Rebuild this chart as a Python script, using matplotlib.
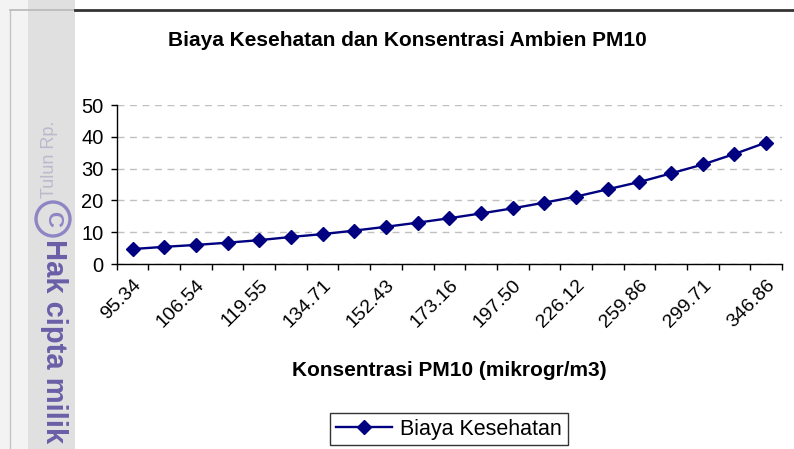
import numpy as np
import matplotlib
matplotlib.use("Agg")
import matplotlib.pyplot as plt
from matplotlib.patches import Rectangle, Circle
from matplotlib.lines import Line2D

# data
tick_labels = ["95.34", "106.54", "119.55", "134.71", "152.43", "173.16",
               "197.50", "226.12", "259.86", "299.71", "346.86"]
biaya = [4.7, 5.4, 6.0, 6.7, 7.5, 8.5, 9.4, 10.5, 11.7, 13.0, 14.4,
         15.9, 17.5, 19.3, 21.2, 23.5, 25.8, 28.5, 31.3, 34.6, 38.2]

plt.rcParams['font.family'] = ['Liberation Sans', 'DejaVu Sans']

W, H = 794, 449
fig = plt.figure(figsize=(W / 100, H / 100), dpi=100)


def fx(px):
    return px / W


def fy(py):
    return 1 - py / H


# scan watermark at the left edge
fig.patches.append(Rectangle((0, 0), fx(28), 1, transform=fig.transFigure,
                             facecolor="#f3f3f3", edgecolor="none", zorder=0))
fig.patches.append(Rectangle((fx(28), 0), fx(47), 1, transform=fig.transFigure,
                             facecolor="#e0e0e0", edgecolor="none", zorder=0))
fig.lines.append(Line2D([fx(9.5), fx(9.5)], [0, fy(10)], transform=fig.transFigure,
                        color="#c4c4c4", lw=1))
fig.lines.append(Line2D([fx(9.5), fx(75)], [fy(10), fy(10)], transform=fig.transFigure,
                        color="#b8b8b8", lw=1.2))
fig.lines.append(Line2D([fx(75), 1], [fy(10), fy(10)], transform=fig.transFigure,
                        color="#333333", lw=2))
fig.text(fx(54), fy(239), "Hak cipta milik", rotation=-90, ha="center", va="top",
         fontsize=21, fontweight="bold", color="#6a5fa8")
fig.patches.append(Circle((53, H - 219), 17, transform=None, fill=False,
                          edgecolor="#8e86c4", lw=2.4, zorder=1))
fig.text(fx(53), fy(219), "C", rotation=-90, ha="center", va="center",
         fontsize=16, fontweight="bold", color="#8e86c4")
fig.text(fx(50), fy(198), "Tulun Rp.", rotation=90, ha="center", va="bottom",
         fontsize=13, color="#bdb8cc")

ax = fig.add_axes([fx(116.7), fy(264), fx(782 - 116.7), (264 - 105) / H])
ax.set_facecolor("none")

x = np.arange(len(biaya))
ax.plot(x, biaya, color="#000080", lw=1.7, marker="D", markersize=7.5,
        label="Biaya Kesehatan", zorder=3)

ax.set_xlim(-0.5, len(biaya) - 0.5)
ax.set_ylim(0, 50)
ax.set_yticks(np.arange(0, 51, 10))
ax.grid(axis="y", color="#c0c0c0", linestyle=(0, (5, 4)), lw=1)
ax.set_axisbelow(True)

# boundaries between categories carry the tick marks, labels sit on every other one
ax.set_xticks(np.arange(-0.5, len(biaya), 1.0))
ax.set_xticklabels([])
ax.set_xticks(x[::2], minor=True)
ax.set_xticklabels(tick_labels, minor=True, rotation=45, ha="right",
                   rotation_mode="anchor", fontsize=14)
ax.tick_params(axis="x", which="minor", length=0, pad=9)
ax.tick_params(axis="x", which="major", length=4.5, width=1, color="#000000")
ax.tick_params(axis="y", length=4.5, width=1, pad=5, labelsize=14.5)

for s in ["top", "right"]:
    ax.spines[s].set_visible(False)
for s in ["left", "bottom"]:
    ax.spines[s].set_linewidth(1)
    ax.spines[s].set_color("black")

fig.text(fx(407), fy(40), "Biaya Kesehatan dan Konsentrasi Ambien PM10",
         ha="center", va="center", fontsize=15, fontweight="bold")
fig.text(fx(449), fy(370), "Konsentrasi PM10 (mikrogr/m3)",
         ha="center", va="center", fontsize=15, fontweight="bold")

leg = fig.legend(loc="center", bbox_to_anchor=(fx(449), fy(429)), fontsize=15.5,
                 frameon=True, fancybox=False, edgecolor="black",
                 handlelength=2.6, handletextpad=0.4, borderpad=0.25)
leg.get_frame().set_linewidth(1)

fig.savefig("out.png", dpi=100)
